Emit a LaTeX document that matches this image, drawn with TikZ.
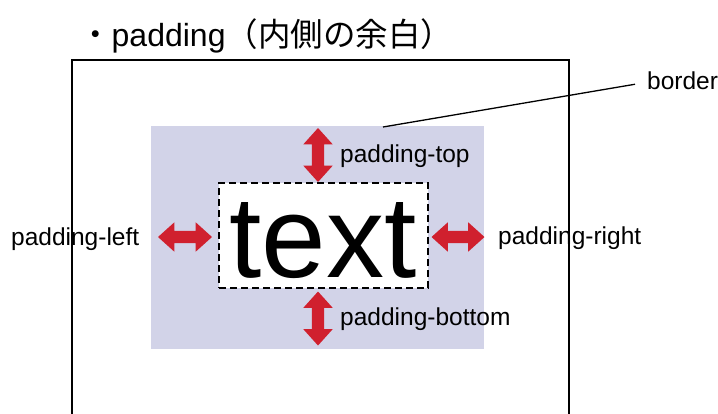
\documentclass[tikz,border=0pt]{standalone}
\usepackage{fontspec}
\setmainfont{Liberation Sans}
\newfontfamily\jpfont{Noto Sans CJK JP}
\usetikzlibrary{shapes.arrows}
\definecolor{padfill}{RGB}{210,211,232}
\definecolor{arrowred}{RGB}{208,32,46}

\begin{document}
\begin{tikzpicture}[x=1pt,y=1pt,
  lbl/.style={inner sep=0, anchor=base west, font=\fontsize{24.5}{28}\selectfont},
  dblarrow/.style={double arrow, fill=arrowred, draw=none, inner sep=0pt,
    text height=6pt, text depth=6pt,
    double arrow head extend=8.5pt, double arrow tip angle=84,
    double arrow head indent=0pt},
  boxline/.style={line width=1.8pt}
]
\useasboundingbox (0,0) rectangle (718,-413);

% title
\node[anchor=base west, inner sep=0] (title) at (79,-46)
  {{\jpfont\fontsize{32.5}{36}\selectfont ・}{\fontsize{32}{36}\selectfont padding}{\jpfont\fontsize{32.5}{36}\selectfont （内側の余白）}};

% border of the element (open at the bottom)
\draw[boxline] (72,-420) -- (72,-60) -- (569,-60) -- (569,-420);

% padding area and content area
\node[fill=padfill, inner sep=0, minimum width=333pt, minimum height=223pt] (pad) at (317.5,-237.5) {};
\node[draw, boxline, dash pattern=on 7pt off 4pt, fill=white, inner sep=0,
      minimum width=209pt, minimum height=105pt] (content) at (323.5,-235.5) {};
\node[anchor=base, inner sep=0, font=\fontsize{116}{120}\selectfont] (word) at (323,-277) {text};

% padding arrows
\node[dblarrow, rotate=90, minimum height=54pt] (atop) at (318,-155) {};
\node[dblarrow, rotate=90, minimum height=54pt] (abottom) at (318,-318.5) {};
\node[dblarrow, minimum height=54pt] (aleft) at (185,-237) {};
\node[dblarrow, minimum height=53pt] (aright) at (458,-237) {};

% labels
\node[lbl] (ltop) at (340,-162) {padding-top};
\node[lbl] (lbottom) at (340,-325) {padding-bottom};
\node[lbl] (lleft) at (11,-245) {padding-left};
\node[lbl] (lright) at (498,-244) {padding-right};
\node[lbl] (lborder) at (647,-89) {border};

% border callout
\coordinate (bpt) at (383,-127);
\draw[line width=1.3pt] (bpt) -- ([shift={(-12pt,-4pt)}]lborder.west);
\end{tikzpicture}
\end{document}
